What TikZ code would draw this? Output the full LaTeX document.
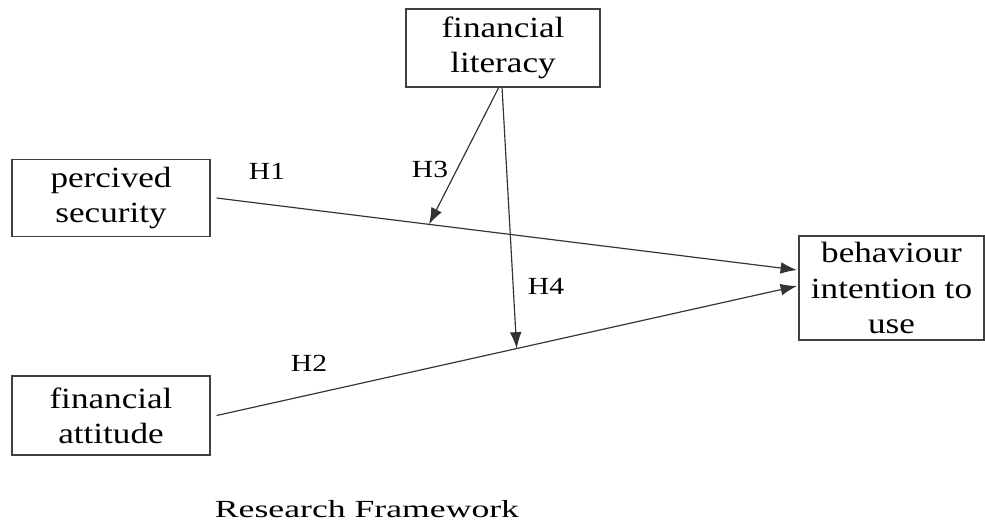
\documentclass[tikz,border=0pt]{standalone}
\usepackage{fontspec}
\setmainfont[FakeStretch=1.2]{Liberation Serif}
\newfontfamily\titlefont[FakeStretch=1.45]{Liberation Serif}
\usetikzlibrary{arrows.meta}
\usetikzlibrary{calc}

\begin{document}
\begin{tikzpicture}[x=0.03cm,y=-0.03cm,
        box/.style={draw=black!75, line width=1pt, align=center, inner sep=0pt,
                    font=\fontsize{25}{30}\selectfont},
        link/.style={draw=black!80, line width=1pt, -{Latex[length=14pt,width=10pt]}},
        hyp/.style={font=\fontsize{21}{23}\selectfont}]
        \useasboundingbox (0,0) rectangle (985,521);

        \node[box, minimum width=5.94cm, minimum height=2.31cm] (PS) at (111,198) {percived\\security};
        \node[box, minimum width=5.82cm, minimum height=2.34cm] (FL) at (503,48) {financial\\literacy};
        \node[box, minimum width=5.55cm, minimum height=3.12cm] (BI) at (891.5,288) {behaviour\\intention to\\use};
        \node[box, minimum width=5.94cm, minimum height=2.37cm] (FA) at (111,415.5) {financial\\attitude};

        \coordinate (BI1) at (797,270);
        \coordinate (BI2) at (797,286);
        \coordinate (FL1) at (499,87);
        \coordinate (FL2) at (502,87);

        \draw[link] ($(PS.east)+(6,0)$) -- (BI1) coordinate[pos=0.366] (M1);
        \draw[link] ($(FA.east)+(6,0)$) -- (BI2) coordinate[pos=0.517] (M2);
        \draw[link] (FL1) -- (M1);
        \draw[link] (FL2) -- (M2);

        \node[hyp] (H1) at (267,171) {H1};
        \node[hyp] (H2) at (309,363) {H2};
        \node[hyp] (H3) at (430,169) {H3};
        \node[hyp] (H4) at (546,286) {H4};

        \node[font=\titlefont\fontsize{21}{23}\selectfont, anchor=base] (title) at (367,517) {Research Framework};
    \end{tikzpicture}
\end{document}
